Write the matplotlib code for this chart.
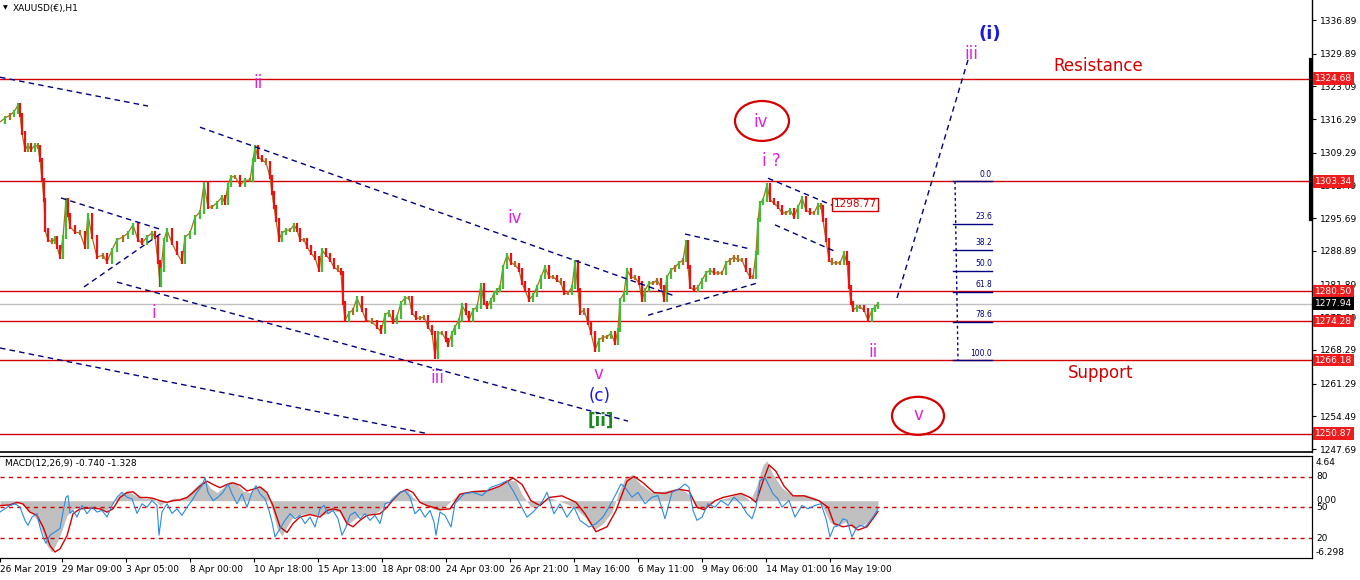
import matplotlib
matplotlib.use("Agg")
import matplotlib.pyplot as plt
import matplotlib.transforms as mtrans
from matplotlib.patches import Ellipse
import numpy as np

plt.rcParams['font.family'] = ['DejaVu Sans']

# price path (bar index = hours from chart start, close price)
bars = [0, 5, 10, 14, 18, 20, 22, 25, 28, 31, 35, 38, 40, 42, 44, 45, 48, 52, 55, 57,
        60, 63, 66, 68, 70, 75, 80, 85, 88, 92, 97, 103, 107, 112, 117, 123, 128, 133, 138, 142,
        147, 152, 155, 158, 160, 161, 164, 167, 172, 177, 182, 185, 190, 195, 200, 204, 208, 212, 217, 222,
        225, 228, 231, 235, 240, 245, 250, 253, 255, 258, 262, 266, 270, 272, 274, 276, 279, 282, 286, 290,
        294, 297, 300, 304, 307, 311, 315, 319, 322, 326, 330, 334, 338, 341, 343, 345, 349, 353, 357, 362,
        366, 372, 377, 381, 385, 389, 393, 397, 401, 405, 409, 412, 416, 420, 424, 428, 432, 435, 438, 442,
        446, 448, 452, 455, 459, 462, 466, 469, 473, 477, 481, 484, 487, 491, 494, 497, 500, 503, 507, 511,
        515, 519, 522, 525, 529, 533, 537, 541, 545, 549, 553, 557, 561, 564, 568, 572, 575, 578, 580, 584,
        588, 591, 595, 599, 603, 607, 611, 615, 618, 620, 624, 627, 631, 635, 639, 642, 645, 649, 653, 657,
        661, 664, 667, 671, 675, 679, 683, 686, 688, 690, 694, 698, 702, 706, 710, 714, 718, 722, 726, 730,
        734, 738, 742, 746, 750, 753, 756, 758, 760, 763, 767, 770, 774, 778, 782, 786, 790, 794, 798, 802,
        806, 810, 814, 818, 821, 823, 826, 829, 832, 836, 840, 844, 847, 849, 851, 853, 857, 860, 864, 868,
        872, 875, 878]
closes = [1315.7, 1316.5, 1317.1, 1317.8, 1319.2, 1317.1, 1313.4, 1309.9, 1310.9, 1309.9, 1310.9, 1310.5, 1307.8, 1303.6, 1299.5, 1293.2, 1291.2, 1290.7, 1291.5, 1289.7,
          1287.6, 1291.8, 1299.5, 1296.4, 1293.9, 1292.8, 1292.6, 1289.7, 1296.4, 1291.8, 1287.6, 1288.0, 1286.6, 1289.1, 1291.2, 1291.8, 1292.6, 1294.3, 1291.2, 1290.5,
          1291.8, 1292.6, 1291.8, 1286.6, 1281.8, 1284.9, 1291.2, 1293.2, 1290.5, 1288.4, 1286.6, 1291.8, 1292.6, 1295.9, 1297.0, 1302.8, 1298.0, 1298.0, 1298.9, 1300.1,
          1298.9, 1302.6, 1304.3, 1304.3, 1302.6, 1303.6, 1303.6, 1307.8, 1310.5, 1308.4, 1307.8, 1307.2, 1304.3, 1300.9, 1298.0, 1295.3, 1291.2, 1292.6, 1293.2, 1293.2,
          1294.3, 1293.2, 1291.2, 1291.2, 1289.7, 1288.4, 1287.4, 1284.9, 1289.1, 1288.0, 1287.0, 1285.5, 1284.9, 1284.3, 1278.1, 1274.5, 1276.0, 1276.6, 1279.1, 1276.6,
          1274.5, 1274.1, 1273.1, 1272.0, 1275.6, 1276.2, 1274.1, 1275.2, 1278.1, 1279.1, 1279.1, 1276.0, 1274.9, 1274.9, 1275.2, 1273.1, 1271.8, 1266.8, 1271.8, 1271.8,
          1270.4, 1269.3, 1271.8, 1273.1, 1274.5, 1277.6, 1276.0, 1274.5, 1276.6, 1277.2, 1281.8, 1278.1, 1277.2, 1278.7, 1280.1, 1280.7, 1281.4, 1285.5, 1288.0, 1286.4,
          1286.0, 1284.9, 1282.2, 1280.7, 1278.7, 1279.7, 1281.4, 1283.5, 1285.5, 1283.5, 1283.5, 1282.8, 1282.2, 1280.1, 1280.1, 1281.4, 1286.6, 1280.7, 1276.0, 1276.6,
          1273.9, 1271.8, 1268.3, 1270.4, 1271.0, 1271.0, 1271.8, 1269.7, 1272.4, 1278.7, 1280.1, 1284.9, 1283.5, 1283.3, 1282.2, 1278.7, 1280.7, 1282.2, 1282.2, 1282.8,
          1281.4, 1278.7, 1283.5, 1284.9, 1285.5, 1286.4, 1287.0, 1290.7, 1285.5, 1281.4, 1280.7, 1281.4, 1282.8, 1284.3, 1284.9, 1284.3, 1284.3, 1284.3, 1286.4, 1287.0,
          1287.6, 1287.0, 1287.0, 1284.9, 1283.5, 1283.5, 1288.4, 1295.3, 1298.8, 1299.5, 1302.6, 1299.5, 1298.8, 1298.0, 1296.8, 1296.8, 1297.4, 1295.9, 1298.0, 1299.9,
          1297.4, 1296.8, 1296.8, 1298.4, 1298.0, 1295.3, 1291.2, 1287.0, 1286.4, 1286.4, 1286.4, 1288.4, 1286.4, 1281.4, 1278.1, 1276.6, 1277.2, 1277.2, 1276.6, 1274.5,
          1276.6, 1277.2, 1277.94]

# MACD main (grey histogram)
macd_bars = [0, 10, 20, 27, 33, 40, 47, 52, 57, 62, 67, 73, 80, 87, 93, 100, 107, 113, 120, 127,
             133, 140, 147, 153, 160, 167, 173, 180, 187, 193, 200, 205, 210, 217, 223, 230, 237, 243, 250, 257,
             263, 268, 272, 277, 282, 287, 293, 300, 310, 320, 327, 333, 340, 347, 353, 360, 367, 373, 380, 387,
             393, 400, 407, 413, 420, 427, 433, 440, 446, 460, 473, 487, 500, 509, 516, 522, 531, 540, 549, 558,
             567, 576, 585, 594, 603, 612, 618, 625, 632, 641, 652, 665, 679, 689, 697, 706, 715, 728, 741, 750,
             756, 763, 767, 773, 782, 793, 804, 815, 823, 830, 836, 845, 854, 863, 871, 878]
macd_vals = [-0.6, -0.6, -0.2, -1.0, -1.6, -3.0, -5.5, -6.3, -5.1, -3.6, -1.8, -1.0, -0.8, -0.9, -0.8, -1.0, -1.2, -0.2, 0.8, 1.2,
             0.8, 0.4, 0.3, 0.4, -0.6, 0.0, 0.3, 0.3, 0.6, 1.4, 2.2, 2.6, 1.6, 1.0, 1.6, 2.4, 2.0, 1.2, 1.0, 1.8,
             1.6, 0.6, -1.0, -3.4, -4.3, -3.2, -2.0, -1.7, -1.6, -1.8, -1.6, -1.2, -1.4, -3.0, -2.4, -1.8, -1.6, -1.6, -1.2, -0.2,
             0.6, 1.2, 1.4, 0.4, -0.2, -0.6, -1.0, -1.2, -0.6, 1.0, 1.3, 1.4, 1.8, 2.6, 2.4, 0.8, -0.8, -0.4, 0.4, 0.0,
             -0.4, -1.0, -2.0, -3.6, -2.8, -1.4, 0.8, 2.8, 3.2, 2.0, 1.0, 1.2, 1.6, 0.8, -1.0, -0.8, 0.0, 0.4, 1.0, 0.0,
             1.6, 4.4, 4.9, 3.2, 1.6, 0.6, 0.8, 0.4, -0.8, -2.6, -3.2, -2.6, -3.4, -3.0, -2.2, -0.74]

# MACD signal (red)
sig_bars = [0, 10, 17, 23, 30, 37, 43, 50, 55, 60, 67, 73, 80, 90, 100, 107, 113, 120, 127, 133,
            140, 147, 153, 160, 167, 173, 180, 187, 193, 200, 207, 213, 220, 227, 233, 240, 247, 253, 260, 267,
            273, 280, 287, 293, 300, 310, 320, 327, 333, 340, 347, 353, 360, 367, 373, 380, 387, 393, 400, 407,
            413, 420, 427, 433, 440, 450, 460, 473, 487, 500, 513, 522, 531, 540, 549, 562, 576, 585, 596, 607,
            616, 627, 634, 643, 654, 665, 679, 689, 697, 704, 715, 723, 741, 750, 756, 763, 769, 776, 784, 793,
            804, 819, 828, 834, 843, 852, 858, 867, 878]
sig_vals = [-0.6, -0.5, -0.2, -0.4, -1.4, -1.8, -3.2, -5.5, -6.3, -5.9, -4.3, -1.6, -1.0, -0.9, -1.0, -1.4, -1.0, 0.4, 1.0, 1.1,
            0.4, 0.4, 0.3, 0.0, -0.2, 0.0, 0.1, 0.4, 1.0, 1.8, 2.4, 2.0, 1.6, 2.0, 2.2, 1.9, 1.2, 1.4, 1.7, 1.0,
            -0.6, -3.2, -3.9, -2.8, -2.0, -1.7, -2.0, -1.2, -1.0, -1.2, -2.8, -3.2, -2.4, -1.8, -1.7, -1.6, -0.8, 0.1, 1.0, 1.4,
            1.0, -0.2, -0.6, -0.8, -1.1, -1.0, 0.8, 1.1, 1.2, 1.8, 2.8, 2.0, 0.0, -0.6, 0.4, 0.6, -0.2, -1.6, -3.8, -3.2,
            -1.2, 2.4, 3.0, 2.2, 1.0, 0.9, 1.4, 1.2, -0.8, -1.1, 0.0, 0.4, 0.9, 0.4, -0.2, 2.4, 4.4, 3.6, 1.8, 0.6,
            0.6, 0.0, -0.8, -2.8, -3.2, -3.0, -3.6, -3.2, -1.33]

# oscillator (blue, 0-100 scale)
osc_bars = [0, 5, 10, 15, 20, 25, 28, 32, 37, 40, 43, 46, 50, 55, 60, 63, 66, 68, 70, 73,
            77, 82, 87, 92, 97, 102, 107, 112, 117, 122, 127, 132, 137, 142, 147, 152, 157, 159, 162, 167,
            172, 177, 182, 187, 192, 197, 202, 205, 208, 213, 218, 223, 228, 232, 237, 242, 247, 252, 256, 260,
            265, 269, 272, 275, 280, 285, 290, 295, 300, 305, 310, 315, 320, 324, 328, 333, 338, 342, 346, 350,
            355, 360, 365, 370, 375, 380, 385, 390, 395, 400, 405, 410, 415, 420, 425, 430, 434, 436, 440, 445,
            451, 455, 464, 473, 482, 491, 500, 507, 513, 520, 527, 533, 542, 547, 554, 560, 567, 574, 580, 589,
            596, 603, 609, 616, 621, 625, 632, 638, 645, 652, 658, 665, 672, 679, 685, 689, 693, 697, 702, 708,
            715, 721, 728, 734, 741, 747, 752, 756, 760, 765, 769, 773, 778, 782, 789, 795, 802, 808, 815, 821,
            826, 830, 834, 839, 843, 847, 852, 856, 860, 865, 869, 873, 878]
osc_vals = [45.5, 48.7, 52, 53.6, 50.3, 37.4, 32.6, 40.6, 43.9, 30.9, 21.2, 14.9, 22.9, 26.1, 29.4, 45.5, 60, 61.6, 44.2, 47.1,
            40.6, 52, 43.9, 50.3, 45.5, 47.1, 40.6, 52, 60, 64.8, 60, 58.4, 44.2, 53.6, 50.3, 56.8, 52, 22.9, 45.5, 53.6,
            44.2, 48.7, 42.3, 50.3, 56.8, 64.8, 71.3, 79.3, 64.8, 56.8, 60, 64.8, 72.9, 63.3, 53.6, 63.3, 50.3, 64.8, 71.3, 63.3,
            58.4, 47.1, 35.8, 21.2, 29.4, 37.4, 43.9, 39, 42.3, 34.2, 40.6, 30.9, 48.7, 52, 43.9, 47.1, 39, 22.9, 30.9, 42.3,
            45.5, 39, 43.9, 37.4, 42.3, 34.2, 53.6, 55.2, 60, 64.8, 66.4, 60, 43.9, 48.7, 40.6, 47.1, 35.8, 22.9, 45.5, 42.3,
            30.9, 53.9, 63.3, 64.8, 61.6, 69.7, 72.9, 76.1, 66.5, 53.6, 40.6, 45.5, 55.2, 64.8, 43.9, 53.6, 40.6, 50.3, 37.4, 30.9,
            34.2, 40.6, 50.3, 63.3, 72.9, 69.7, 60, 64.8, 53.6, 60, 61.6, 39, 64.8, 68.1, 72.9, 69.7, 47.1, 37.4, 40.6, 53.6,
            50.3, 56.8, 52, 60, 53.6, 43.9, 39, 50.3, 76.1, 79.3, 71.3, 63.3, 58.4, 50.3, 56.8, 40.6, 52, 48.7, 52, 53.6,
            39, 21.2, 30.9, 32.6, 39, 37.4, 21.2, 29.4, 32.6, 30.9, 35.8, 40.6, 48.7]

# horizontal levels
red_levels = [1324.68, 1303.34, 1280.50, 1274.28, 1266.18, 1250.87]
last_price = 1277.94
fib_high, fib_low = 1303.34, 1266.18
fib_levels = [0.0, 23.6, 38.2, 50.0, 61.8, 78.6, 100.0]
price_ticks = [1336.89, 1329.89, 1323.09, 1316.29, 1309.29, 1302.49, 1295.69, 1288.89,
               1281.89, 1275.09, 1268.29, 1261.29, 1254.49, 1247.69]
date_ticks = [0, 62, 126, 190, 254, 318, 382, 446, 510, 574, 638, 702, 766, 830]
date_labels = ['26 Mar 2019', '29 Mar 09:00', '3 Apr 05:00', '8 Apr 00:00', '10 Apr 18:00',
               '15 Apr 13:00', '18 Apr 08:00', '24 Apr 03:00', '26 Apr 21:00', '1 May 16:00',
               '6 May 11:00', '9 May 06:00', '14 May 01:00', '16 May 19:00']

# dashed trend lines ((bar, price), (bar, price))
trend_lines = [((0, 1325.0), (148, 1319.0)),
               ((200, 1314.6), (675, 1279.5)),
               ((117, 1282.4), (628, 1253.5)),
               ((0, 1268.7), (425, 1251.0)),
               ((61, 1299.9), (160, 1293.4)),
               ((84, 1281.4), (163, 1292.8)),
               ((685, 1292.4), (750, 1289.3)),
               ((648, 1275.5), (757, 1282.2)),
               ((768, 1304.0), (832, 1298.4)),
               ((775, 1294.3), (836, 1288.7)),
               ((897, 1279.1), (968, 1328.6))]

RED = '#d40000'
NAVY = '#000080'
MAG = '#e020e0'

fig = plt.figure(figsize=(13.6, 5.8), dpi=100)
ax = fig.add_axes([0, 128 / 580, 1312 / 1360, 452 / 580])
ax2 = fig.add_axes([0, 22 / 580, 1312 / 1360, 102 / 580])

# ---- main price window ----
ax.set_xlim(0, 1312)
ax.set_ylim(1247.08, 1341.05)

for lvl in red_levels:
    ax.axhline(lvl, color=RED, lw=1, zorder=1)
ax.axhline(last_price, color='#c0c0c0', lw=1, zorder=1)

b = np.array(bars)
c = np.array(closes)
lo = np.minimum(c[:-1], c[1:]) - 0.4
hi = np.maximum(c[:-1], c[1:]) + 0.4
d = c[1:] - c[:-1]
cols = ['#44bb33' if v > 0.6 else ('#ee1111' if v < -0.6 else '#a8701e') for v in d]
ax.plot(b, c, color='#a8701e', lw=0.9, zorder=2)
ax.vlines(b[1:], lo, hi, colors=cols, lw=1.6, zorder=3)

for (x0, y0), (x1, y1) in trend_lines:
    ax.plot([x0, x1], [y0, y1], color=NAVY, lw=1, ls=(0, (4, 3)), zorder=4)

# fibonacci retracement
ax.plot([955, 958], [fib_high, fib_low], color=NAVY, lw=1, ls=(0, (2, 2)), zorder=4)
for f in fib_levels:
    p = fib_high - f / 100 * (fib_high - fib_low)
    ax.plot([953, 992], [p, p], color=NAVY, lw=1, zorder=4)
    ax.text(992, p + 0.5, '%.1f' % f, color=NAVY, fontsize=5.5, ha='right', va='bottom')

# wave labels
ax.text(258, 1323.8, 'ii', color=MAG, fontsize=12, ha='center', va='center')
ax.text(154, 1275.9, 'i', color=MAG, fontsize=12, ha='center', va='center')
ax.text(515, 1295.7, 'iv', color=MAG, fontsize=12, ha='center', va='center')
ax.text(437, 1262.5, 'iii', color=MAG, fontsize=12, ha='center', va='center')
ax.text(598, 1263.3, 'v', color=MAG, fontsize=12, ha='center', va='center')
ax.text(600, 1258.7, '(c)', color='#1a1ae0', fontsize=12, ha='center', va='center')
ax.text(601, 1253.5, '[ii]', color='#1a8a1a', fontsize=12, fontweight='bold', ha='center', va='center')
ax.text(771, 1307.6, 'i ?', color=MAG, fontsize=12, ha='center', va='center')
ax.text(761, 1315.7, 'iv', color=MAG, fontsize=12, ha='center', va='center')
ax.text(873, 1267.9, 'ii', color=MAG, fontsize=12, ha='center', va='center')
ax.text(918, 1254.8, 'v', color=MAG, fontsize=12, ha='center', va='center')
ax.text(971, 1329.8, 'iii', color=MAG, fontsize=12, ha='center', va='center')
ax.text(990, 1334.0, '(i)', color='#1a1ae0', fontsize=13, fontweight='bold', ha='center', va='center')
ax.add_patch(Ellipse((762, 1315.9), 54, 8.3, fill=False, ec=RED, lw=1.6, zorder=5))
ax.add_patch(Ellipse((918, 1254.6), 52, 7.9, fill=False, ec=RED, lw=1.6, zorder=5))
ax.text(1098, 1327.3, 'Resistance', color=RED, fontsize=12, ha='center', va='center')
ax.text(1101, 1263.5, 'Support', color=RED, fontsize=12, ha='center', va='center')
ax.text(855, 1298.6, '1298.77', color=RED, fontsize=7.5, ha='center', va='center',
        bbox=dict(boxstyle='square,pad=0.15', fc='white', ec=RED, lw=1), zorder=6)

# right price scale
ax.yaxis.tick_right()
ax.set_yticks(price_ticks)
ax.set_yticklabels(['%.2f' % t for t in price_ticks])
ax.tick_params(axis='y', labelsize=6.5, length=3, pad=3)
ax.set_xticks([])
for s in ['top', 'left']:
    ax.spines[s].set_visible(False)
ax.spines['right'].set_linewidth(1)
ax.spines['bottom'].set_linewidth(1.2)
ax.plot([1311, 1311], [1328.6, 1295.5], color='black', lw=3, clip_on=False, zorder=6)

tr = mtrans.blended_transform_factory(ax.transAxes, ax.transData)
lab_tr = mtrans.offset_copy(tr, fig=fig, x=1315, y=0, units='dots')
for lvl in red_levels:
    ax.text(0, lvl, '%.2f' % lvl, transform=lab_tr,
            color='white', fontsize=6.5, ha='left', va='center',
            bbox=dict(boxstyle='square,pad=0.2', fc='#ee1c1c', ec='none'), zorder=10, clip_on=False)
ax.text(0, last_price, '%.2f' % last_price, transform=lab_tr,
        color='white', fontsize=6.5, ha='left', va='center',
        bbox=dict(boxstyle='square,pad=0.2', fc='black', ec='none'), zorder=10, clip_on=False)

fig.text(13 / 1360, 1 - 8 / 580, 'XAUUSD(€),H1', fontsize=6.5, va='center', ha='left')
fig.text(3 / 1360, 1 - 8 / 580, '▼', fontsize=4.5, va='center', ha='left')

# ---- MACD window ----
ax2.set_xlim(0, 1312)
ax2.set_ylim(-7.03, 5.49)
ax2.fill_between(macd_bars, 0, macd_vals, color='#c0c0c0', lw=0)
ax2.plot(sig_bars, sig_vals, color=RED, lw=1)
ax3 = ax2.twinx()
ax3.set_ylim(0.6, 100.3)
for lv in [80, 50, 20]:
    ax3.axhline(lv, color=RED, lw=1, ls=(0, (3, 3)))
ax3.plot(osc_bars, osc_vals, color='#2a8ae0', lw=0.8)
ax3.set_yticks([])
for a in (ax2, ax3):
    a.spines['left'].set_visible(False)
ax2.set_yticks([])

ax2.set_xticks(date_ticks)
ax2.set_xticklabels(date_labels)
ax2.tick_params(axis='x', labelsize=6.5, length=3, pad=2)
for lbl in ax2.get_xticklabels():
    lbl.set_ha('left')

tr2 = mtrans.offset_copy(mtrans.blended_transform_factory(ax2.transAxes, ax2.transData), fig=fig, x=4, y=0, units='dots')
for v, s in [(4.64, '4.64'), (0.0, '0.00'), (-6.298, '-6.298')]:
    ax2.text(1, v, s, transform=tr2, fontsize=6.5, ha='left', va='center', clip_on=False)
tr3 = mtrans.offset_copy(mtrans.blended_transform_factory(ax3.transAxes, ax3.transData), fig=fig, x=4, y=0, units='dots')
for v in [80, 50, 20]:
    ax3.text(1, v, str(v), transform=tr3, fontsize=6.5, ha='left', va='center', clip_on=False)
ax2.text(5 / 1312, 0.93, 'MACD(12,26,9) -0.740 -1.328', transform=ax2.transAxes, fontsize=6.5, va='center')

fig.savefig('out.png', dpi=100)
